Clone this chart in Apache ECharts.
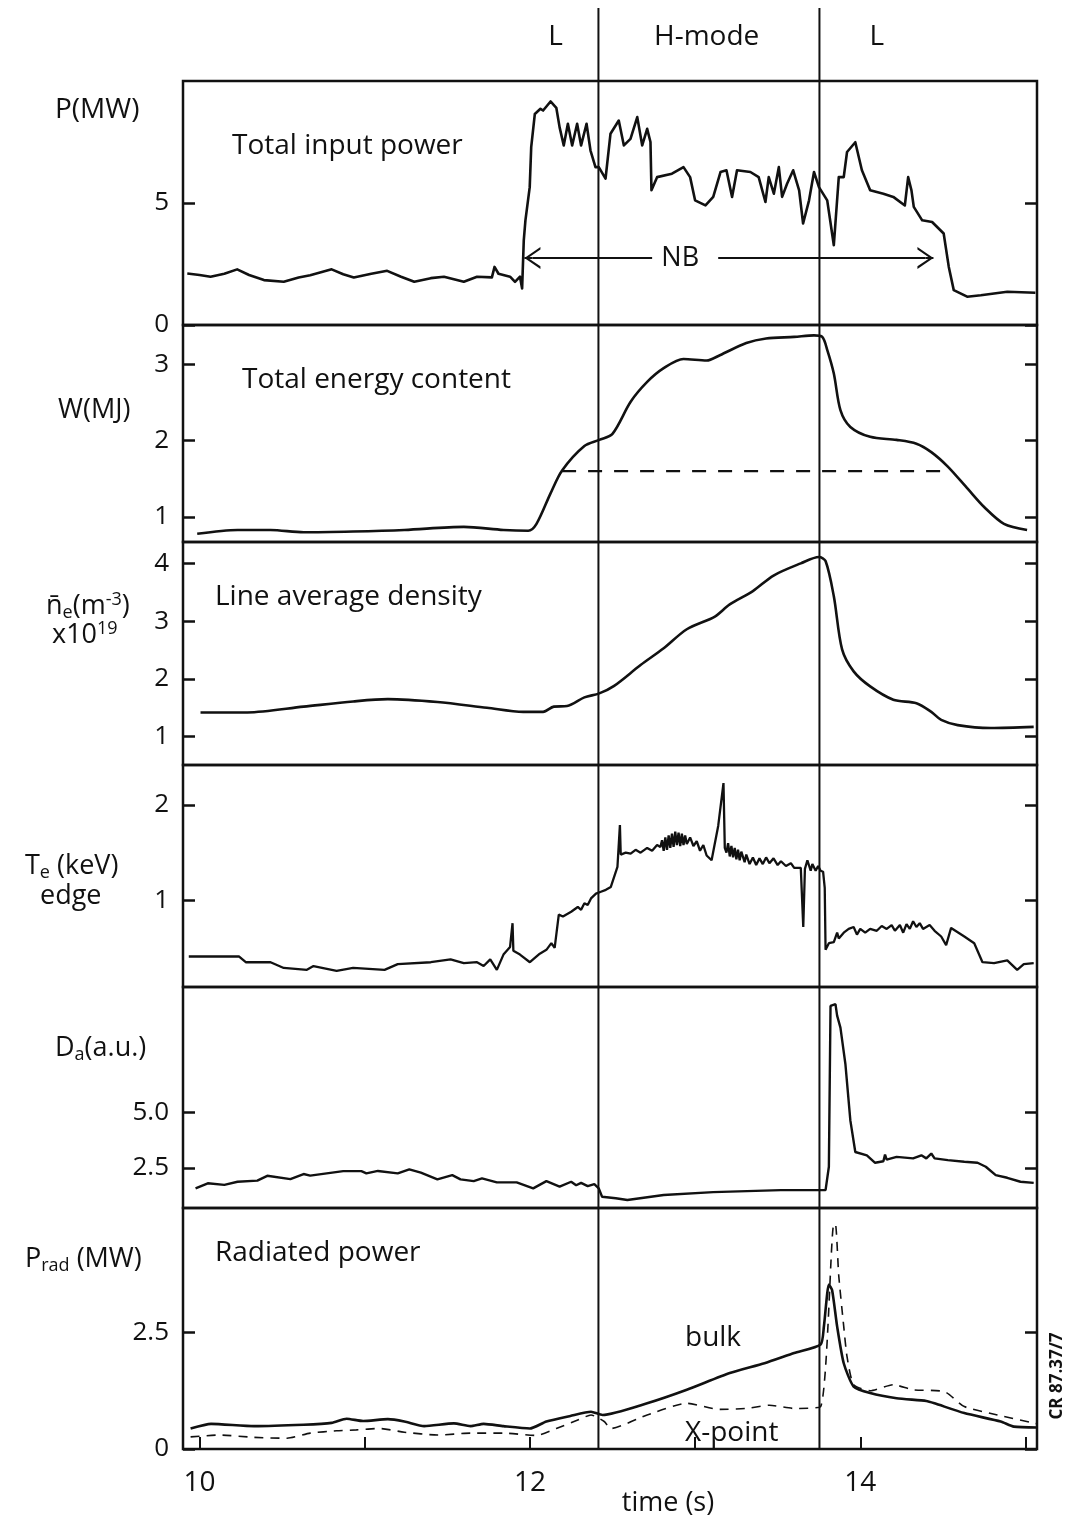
<!DOCTYPE html>
<html><head><meta charset="utf-8">
<script src="https://cdn.jsdelivr.net/npm/echarts@6/dist/echarts.min.js"></script>
<style>html,body{margin:0;padding:0;background:#fff}#c{width:1066px;height:1521px}</style>
</head><body><div id="c"></div>
<script>
// ---------------- data ----------------
const timeTicks = [10, 11, 12, 13, 14, 15];
const timeLabels = [10, 12, 14];
const transitions = [12.415, 13.753];
const phaseNames = ['L', 'H-mode', 'L'];
const phaseTimes = [12.155, 13.07, 14.10];

const powerTicks = [0, 5];
const energyTicks = [1, 2, 3];
const densityTicks = [1, 2, 3, 4];
const tempTicks = [1, 2];
const dalphaTicks = [2.5, 5.0];
const dalphaTickText = ['2.5', '5.0'];
const pradTicks = [0, 2.5];
const pradTickText = ['0', '2.5'];

const powerTotal = [[9.926,2.11],[10.0,2.05],[10.067,1.98],[10.15,2.10],[10.228,2.28],[10.30,2.05],[10.39,1.84],[10.51,1.77],[10.60,1.95],[10.67,2.04],[10.80,2.28],[10.87,2.08],[10.934,1.95],[11.04,2.10],[11.136,2.22],[11.22,1.98],[11.30,1.77],[11.40,1.92],[11.48,1.98],[11.60,1.77],[11.68,1.98],[11.77,1.95],[11.786,2.38],[11.81,2.1],[11.88,1.98],[11.91,1.77],[11.94,1.98],[11.953,1.50],[11.963,3.47],[11.973,4.29],[11.999,5.65],[12.008,7.29],[12.03,8.65],[12.064,8.86],[12.08,8.79],[12.125,9.16],[12.16,8.9],[12.18,8.1],[12.205,7.36],[12.23,8.25],[12.256,7.36],[12.286,8.25],[12.31,7.36],[12.343,8.25],[12.367,7.15],[12.397,6.47],[12.417,6.47],[12.458,6.0],[12.488,7.84],[12.538,8.38],[12.569,7.36],[12.609,7.63],[12.65,8.52],[12.68,7.36],[12.71,8.04],[12.73,7.5],[12.736,5.52],[12.77,6.06],[12.86,6.2],[12.93,6.47],[12.97,6.06],[13.0,5.11],[13.063,4.9],[13.11,5.25],[13.154,6.27],[13.19,6.34],[13.224,5.25],[13.254,6.34],[13.335,6.27],[13.385,6.06],[13.426,5.04],[13.446,6.06],[13.477,5.38],[13.507,6.47],[13.527,5.25],[13.557,5.79],[13.594,6.34],[13.63,5.52],[13.654,4.16],[13.69,5.11],[13.72,6.27],[13.75,5.65],[13.80,5.11],[13.84,3.27],[13.87,6.06],[13.90,6.06],[13.92,7.09],[13.97,7.49],[14.01,6.34],[14.06,5.52],[14.14,5.38],[14.20,5.25],[14.27,4.9],[14.29,6.06],[14.31,5.52],[14.324,4.84],[14.375,4.29],[14.435,4.22],[14.505,3.75],[14.536,2.38],[14.566,1.43],[14.647,1.16],[14.73,1.22],[14.89,1.36],[15.06,1.32]];
const nbStart = 11.967, nbEnd = 14.443, nbLevel = 2.75, nbGapStart = 12.74, nbGapEnd = 13.14, nbTextTime = 12.91;

const energy = [[9.986,0.78],[10.23,0.83],[10.43,0.83],[10.63,0.80],[10.93,0.81],[11.24,0.83],[11.60,0.87],[11.84,0.83],[11.99,0.82],[12.04,0.91],[12.125,1.31],[12.195,1.61],[12.33,1.93],[12.42,2.01],[12.50,2.09],[12.61,2.51],[12.71,2.77],[12.81,2.95],[12.93,3.07],[13.07,3.05],[13.15,3.12],[13.31,3.28],[13.43,3.34],[13.60,3.36],[13.72,3.38],[13.77,3.36],[13.80,3.19],[13.84,2.88],[13.88,2.40],[13.94,2.18],[14.06,2.05],[14.22,2.01],[14.34,1.96],[14.43,1.85],[14.53,1.66],[14.65,1.37],[14.75,1.13],[14.87,0.91],[15.01,0.83]];
const energyRef = [[12.195,1.60],[14.53,1.60]];

const density = [[10.006,1.42],[10.29,1.42],[10.63,1.52],[10.93,1.61],[11.14,1.65],[11.44,1.60],[11.74,1.50],[11.96,1.43],[12.08,1.43],[12.145,1.52],[12.225,1.53],[12.33,1.68],[12.42,1.75],[12.51,1.88],[12.67,2.24],[12.81,2.53],[12.95,2.86],[13.12,3.08],[13.21,3.29],[13.35,3.52],[13.475,3.79],[13.64,4.00],[13.75,4.11],[13.79,4.04],[13.84,3.43],[13.89,2.51],[13.96,2.13],[14.06,1.87],[14.20,1.64],[14.34,1.58],[14.43,1.43],[14.49,1.29],[14.59,1.20],[14.79,1.15],[15.05,1.17]];

const edgeTemp = [[9.935,0.41],[10.24,0.41],[10.28,0.35],[10.43,0.35],[10.51,0.29],[10.65,0.27],[10.69,0.31],[10.83,0.26],[10.93,0.29],[11.12,0.27],[11.2,0.33],[11.40,0.35],[11.52,0.38],[11.60,0.34],[11.68,0.35],[11.72,0.31],[11.76,0.38],[11.80,0.27],[11.84,0.43],[11.88,0.51],[11.895,0.76],[11.90,0.47],[11.94,0.43],[12.0,0.35],[12.06,0.44],[12.10,0.48],[12.13,0.55],[12.15,0.50],[12.175,0.85],[12.2,0.83],[12.25,0.88],[12.29,0.93],[12.31,0.90],[12.33,0.97],[12.35,0.95],[12.37,1.02],[12.40,1.07],[12.43,1.09],[12.46,1.11],[12.49,1.14],[12.53,1.35],[12.545,1.79],[12.55,1.48],[12.58,1.50],[12.61,1.49],[12.64,1.53],[12.67,1.50],[12.71,1.55],[12.74,1.52],[12.77,1.58],[12.79,1.56],[12.80,1.63],[12.81,1.52],[12.82,1.66],[12.83,1.53],[12.84,1.68],[12.85,1.55],[12.86,1.70],[12.87,1.56],[12.88,1.72],[12.89,1.58],[12.90,1.71],[12.91,1.57],[12.92,1.70],[12.93,1.58],[12.94,1.68],[12.95,1.59],[12.97,1.66],[12.99,1.57],[13.01,1.62],[13.03,1.52],[13.05,1.58],[13.07,1.47],[13.10,1.42],[13.14,1.78],[13.172,2.23],[13.18,1.55],[13.19,1.50],[13.20,1.60],[13.21,1.46],[13.22,1.57],[13.23,1.45],[13.24,1.55],[13.25,1.43],[13.26,1.53],[13.27,1.42],[13.28,1.51],[13.30,1.40],[13.31,1.48],[13.33,1.38],[13.35,1.45],[13.37,1.37],[13.39,1.44],[13.41,1.38],[13.43,1.45],[13.45,1.39],[13.475,1.44],[13.50,1.37],[13.52,1.41],[13.55,1.36],[13.58,1.39],[13.60,1.34],[13.64,1.34],[13.655,0.72],[13.665,1.33],[13.68,1.42],[13.70,1.31],[13.71,1.38],[13.73,1.31],[13.745,1.36],[13.76,1.31],[13.775,1.30],[13.785,1.13],[13.79,0.48],[13.81,0.55],[13.84,0.56],[13.86,0.66],[13.87,0.60],[13.90,0.66],[13.93,0.70],[13.96,0.72],[13.98,0.64],[14.0,0.70],[14.03,0.66],[14.06,0.70],[14.10,0.68],[14.13,0.73],[14.16,0.70],[14.19,0.74],[14.21,0.68],[14.24,0.74],[14.26,0.66],[14.28,0.75],[14.30,0.70],[14.32,0.78],[14.34,0.72],[14.36,0.76],[14.38,0.70],[14.42,0.74],[14.45,0.68],[14.49,0.62],[14.52,0.53],[14.55,0.71],[14.63,0.62],[14.69,0.55],[14.74,0.35],[14.81,0.34],[14.89,0.37],[14.95,0.27],[14.99,0.33],[15.05,0.34]];

const dAlpha = [[9.976,1.57],[10.05,1.80],[10.15,1.73],[10.23,1.87],[10.35,1.92],[10.41,2.14],[10.55,1.99],[10.63,2.22],[10.67,2.15],[10.87,2.35],[10.98,2.35],[11.01,2.25],[11.08,2.36],[11.2,2.25],[11.27,2.43],[11.34,2.28],[11.44,1.98],[11.53,2.17],[11.58,1.98],[11.66,1.90],[11.71,2.02],[11.80,1.84],[11.92,1.84],[12.02,1.57],[12.10,1.90],[12.18,1.65],[12.25,1.87],[12.28,1.71],[12.31,1.82],[12.35,1.67],[12.39,1.76],[12.417,1.57],[12.437,1.19],[12.52,1.12],[12.59,1.04],[12.81,1.27],[13.11,1.40],[13.52,1.49],[13.79,1.49],[13.81,2.55],[13.82,9.84],[13.85,9.92],[13.86,9.4],[13.88,8.86],[13.91,7.21],[13.94,4.65],[13.97,3.22],[14.04,3.07],[14.09,2.73],[14.14,2.8],[14.15,3.1],[14.16,2.87],[14.22,3.0],[14.32,2.93],[14.37,3.07],[14.40,2.93],[14.43,3.15],[14.45,2.93],[14.53,2.85],[14.63,2.78],[14.71,2.73],[14.76,2.55],[14.82,2.17],[14.89,2.05],[14.97,1.87],[15.05,1.82]];

const pradBulk = [[9.946,0.44],[10.07,0.54],[10.33,0.49],[10.63,0.52],[10.80,0.56],[10.89,0.65],[10.99,0.60],[11.14,0.64],[11.24,0.59],[11.36,0.49],[11.54,0.55],[11.64,0.49],[11.72,0.54],[11.84,0.49],[12.0,0.44],[12.10,0.59],[12.245,0.71],[12.37,0.80],[12.44,0.73],[12.71,0.98],[12.95,1.27],[13.21,1.63],[13.42,1.84],[13.60,2.06],[13.76,2.24],[13.78,2.63],[13.81,3.53],[13.83,3.4],[13.86,2.63],[13.90,1.84],[13.96,1.34],[14.06,1.20],[14.22,1.09],[14.40,1.03],[14.45,0.98],[14.63,0.77],[14.85,0.59],[14.93,0.48],[15.07,0.46]];
const pradXpoint = [[9.946,0.26],[10.12,0.30],[10.33,0.25],[10.53,0.23],[10.67,0.34],[10.83,0.39],[10.95,0.41],[11.09,0.44],[11.24,0.36],[11.44,0.30],[11.64,0.34],[11.84,0.34],[12.04,0.29],[12.16,0.44],[12.29,0.62],[12.37,0.73],[12.45,0.59],[12.49,0.44],[12.71,0.73],[12.95,0.98],[13.15,0.85],[13.31,0.87],[13.45,0.94],[13.60,0.87],[13.76,0.91],[13.84,4.82],[13.85,4.82],[13.87,3.71],[13.90,2.63],[13.92,1.98],[13.96,1.38],[14.06,1.25],[14.20,1.38],[14.32,1.27],[14.51,1.23],[14.63,0.91],[14.83,0.73],[15.07,0.54]];

// ---------------- layout / style ----------------
const FONT = '"Open Sans", "DejaVu Sans", sans-serif';
const INK = '#111';
const X_MIN = 9.90, X_MAX = 15.07;
const panels = [
  {top: 81,  bottom: 325,  min: 0,     max: 10,    ticks: powerTicks,   labels: powerTicks.map(String)},
  {top: 325, bottom: 542,  min: 0.672, max: 3.516, ticks: energyTicks,  labels: energyTicks.map(String)},
  {top: 542, bottom: 765,  min: 0.51,  max: 4.37,  ticks: densityTicks, labels: densityTicks.map(String)},
  {top: 765, bottom: 987,  min: 0.09,  max: 2.42,  ticks: tempTicks,    labels: tempTicks.map(String)},
  {top: 987, bottom: 1208, min: 0.68,  max: 10.7,  ticks: dalphaTicks,  labels: dalphaTickText},
  {top: 1208, bottom: 1449, min: 0,    max: 5.17,  ticks: pradTicks,    labels: pradTickText}
];
const LEFT = 183, RIGHT_EDGE = 1037;
const CHEVRON = 'path://M10,0 L20,16 L17.6,16 L10,3.6 L2.4,16 L0,16 Z';
const ARROW_LEN = 16;                       // px along the line
const secPerPx = (X_MAX - X_MIN) / (RIGHT_EDGE - LEFT);
const tipShift = ARROW_LEN / 2 * secPerPx;  // symbol is centred on the end point

const grids = [], xAxes = [], yAxes = [];
panels.forEach((p, i) => {
  grids.push({left: LEFT, width: RIGHT_EDGE - LEFT, top: p.top, height: p.bottom - p.top,
    show: true, borderColor: INK, borderWidth: 2.5, backgroundColor: 'transparent'});
  const last = i === panels.length - 1;
  xAxes.push({type: 'value', gridIndex: i, min: X_MIN, max: X_MAX,
    axisLine: {show: false}, splitLine: {show: false},
    axisTick: {show: last, inside: true, length: 12, lineStyle: {color: INK, width: 2}, customValues: timeTicks},
    axisLabel: {show: last, customValues: timeLabels, margin: 20, fontSize: 28, color: INK, fontFamily: FONT}});
  const yBase = {type: 'value', gridIndex: i, min: p.min, max: p.max,
    axisLine: {show: false}, splitLine: {show: false}};
  yAxes.push(Object.assign({}, yBase, {position: 'left',
    axisTick: {show: true, inside: true, length: 12, lineStyle: {color: INK, width: 2.5}, customValues: p.ticks},
    axisLabel: {show: true, customValues: p.ticks, margin: 14, fontSize: 26, color: INK, fontFamily: FONT,
      formatter: v => { const k = p.ticks.findIndex(t => Math.abs(t - v) < 1e-9); return k >= 0 ? p.labels[k] : ''; }}}));
  yAxes.push(Object.assign({}, yBase, {position: 'right',
    axisTick: {show: true, inside: true, length: 12, lineStyle: {color: INK, width: 2.5}, customValues: p.ticks},
    axisLabel: {show: false}}));
});

function trace(data, idx, extra) {
  return Object.assign({type: 'line', data: data, xAxisIndex: idx, yAxisIndex: idx * 2,
    symbol: 'none', showSymbol: false, animation: false, silent: true,
    lineStyle: {color: INK, width: 2.6, join: 'round'}}, extra || {});
}

const series = [
  trace(powerTotal, 0, {markLine: {silent: true, animation: false, label: {show: false},
    lineStyle: {color: INK, width: 2, type: 'solid'}, symbolSize: [22, ARROW_LEN],
    data: [
      [{coord: [nbStart + tipShift, nbLevel], symbol: CHEVRON}, {coord: [nbGapStart, nbLevel], symbol: 'none'}],
      [{coord: [nbGapEnd, nbLevel], symbol: 'none'}, {coord: [nbEnd - tipShift, nbLevel], symbol: CHEVRON}],
      [{coord: [nbStart, nbLevel], symbol: 'none'}, {coord: [nbStart + tipShift, nbLevel], symbol: 'none'}],
      [{coord: [nbEnd - tipShift, nbLevel], symbol: 'none'}, {coord: [nbEnd, nbLevel], symbol: 'none'}]
    ]}}),
  trace(energy, 1, {smooth: 0.3}),
  trace(energyRef, 1, {lineStyle: {color: INK, width: 2.2, type: [14, 12]}}),
  trace(density, 2, {smooth: 0.3}),
  trace(edgeTemp, 3, {lineStyle: {color: INK, width: 2.3}}),
  trace(dAlpha, 4, {lineStyle: {color: INK, width: 2.4}}),
  trace(pradBulk, 5, {smooth: 0.2}),
  trace(pradXpoint, 5, {smooth: 0.2, lineStyle: {color: INK, width: 1.6, type: [9, 7]}})
];

function txt(x, y, text, size, extra) {
  return Object.assign({type: 'text', x: x, y: y, silent: true,
    style: {text: text, fontSize: size || 26, fontFamily: FONT, fill: INK, textVerticalAlign: 'middle'}}, extra || {});
}
const A = {fontSize: 27, fontFamily: FONT, fill: INK};
const SUB = {fontSize: 18, fontFamily: FONT, fill: INK, padding: [14, 0, 0, 0]};
const SUP = {fontSize: 18, fontFamily: FONT, fill: INK, padding: [0, 0, 12, 0]};
const graphics = [
  txt(232, 146, 'Total input power', 28),
  txt(242, 380, 'Total energy content', 28),
  txt(215, 597, 'Line average density', 28),
  txt(215, 1253, 'Radiated power', 28),
  txt(685, 1338, 'bulk', 28),
  txt(685, 1433, 'X-point', 28),
  txt(55, 110, 'P(MW)', 28),
  txt(58, 410, 'W(MJ)', 27),
  {type: 'text', x: 46, y: 590, silent: true, style: {text: '{a|n\u0304}{s|e}{a|(m}{p|-3}{a|)}', rich: {a: A, s: SUB, p: SUP}}},
  {type: 'text', x: 52, y: 620, silent: true, style: {text: '{a|x10}{p|19}', rich: {a: A, p: SUP}}},
  {type: 'text', x: 25, y: 850, silent: true, style: {text: '{a|T}{s|e}{a| (keV)}', rich: {a: A, s: SUB}}},
  txt(40, 896, 'edge', 27),
  {type: 'text', x: 55, y: 1032, silent: true, style: {text: '{a|D}{s|a}{a|(a.u.)}', rich: {a: A, s: SUB}}},
  {type: 'text', x: 25, y: 1243, silent: true, style: {text: '{a|P}{s|rad}{a| (MW)}', rich: {a: A, s: SUB}}},
  txt(668, 1503, 'time (s)', 27, {style: {text: 'time (s)', fontSize: 27, fontFamily: FONT, fill: INK, textAlign: 'center', textVerticalAlign: 'middle'}}),
  {type: 'text', x: 1057, y: 1376, rotation: Math.PI / 2, silent: true,
    style: {text: 'CR 87.37/7', fontSize: 17, fontWeight: 'bold', fontFamily: FONT, fill: INK, textAlign: 'center', textVerticalAlign: 'middle'}}
];

const chart = echarts.init(document.getElementById('c'), null, {renderer: 'canvas'});
chart.setOption({backgroundColor: '#fff', animation: false, grid: grids, xAxis: xAxes, yAxis: yAxes, series: series, graphic: graphics});

// transition lines, phase labels, NB text placed through the x scale
const extra = [];
const yBottom = chart.convertToPixel({yAxisIndex: 10}, 0);
transitions.forEach(t => {
  const x = chart.convertToPixel({xAxisIndex: 0}, t);
  extra.push({type: 'line', silent: true, z: 10, shape: {x1: x, y1: 8, x2: x, y2: yBottom}, style: {stroke: INK, lineWidth: 2}});
});
phaseNames.forEach((n, i) => {
  const x = chart.convertToPixel({xAxisIndex: 0}, phaseTimes[i]);
  extra.push({type: 'text', silent: true, x: x, y: 37, style: {text: n, fontSize: 28, fontFamily: FONT, fill: INK, textAlign: 'center', textVerticalAlign: 'middle'}});
});
const nbPt = chart.convertToPixel({xAxisIndex: 0, yAxisIndex: 0}, [nbTextTime, nbLevel]);
extra.push({type: 'text', silent: true, x: nbPt[0], y: nbPt[1], style: {text: 'NB', fontSize: 27, fontFamily: FONT, fill: INK, textAlign: 'center', textVerticalAlign: 'middle'}});
chart.setOption({graphic: graphics.concat(extra)});
</script>
</body></html>
